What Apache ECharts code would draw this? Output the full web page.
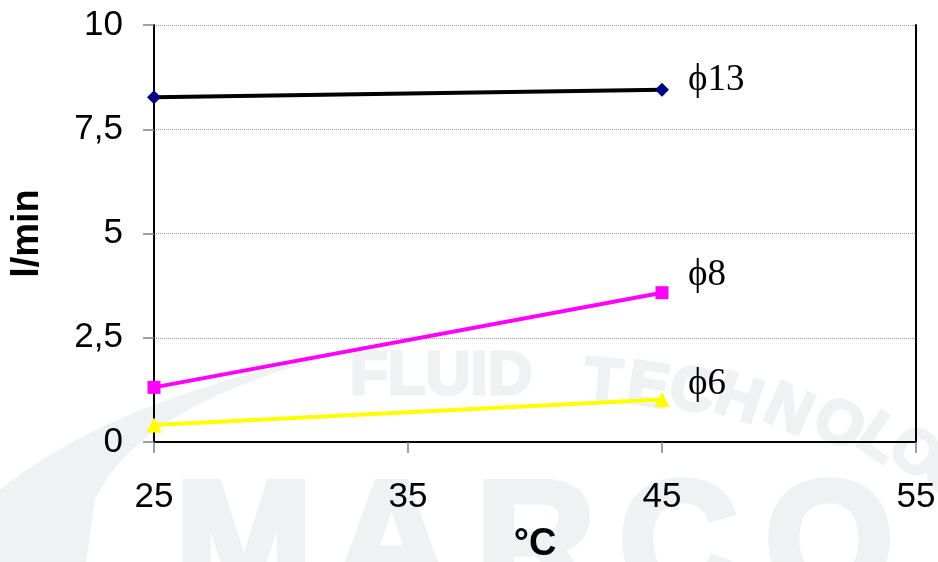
<!DOCTYPE html>
<html>
<head>
<meta charset="utf-8">
<script src="https://cdn.jsdelivr.net/npm/echarts@6/dist/echarts.min.js"></script>
<style>html,body{margin:0;padding:0;background:#fff}#c{width:938px;height:562px}</style>
</head>
<body>
<div id="c"></div>
<script>
// ---- data ----
const temps = [25, 45];
const phi13 = [8.27, 8.45];
const phi8 = [1.31, 3.58];
const phi6 = [0.41, 1.02];
const seriesNames = ['\u03D513', '\u03D58', '\u03D56'];
const xTicks = [25, 35, 45, 55];
const yTicks = [0, 2.5, 5, 7.5, 10];

const pairs = arr => temps.map((t, i) => [t, arr[i]]);

// ---- watermark (decoration) ----
const wm = '#eef2f3';
function bez(p0, p1, p2, p3, n) {
  const out = [];
  for (let i = 0; i <= n; i++) {
    const t = i / n, u = 1 - t;
    out.push([
      u*u*u*p0[0] + 3*u*u*t*p1[0] + 3*u*t*t*p2[0] + t*t*t*p3[0],
      u*u*u*p0[1] + 3*u*u*t*p1[1] + 3*u*t*t*p2[1] + t*t*t*p3[1]
    ]);
  }
  return out;
}
const swoosh = bez([0, 490], [80, 425], [200, 378], [380, 345], 30)
  .concat(bez([380, 345], [250, 372], [130, 420], [95, 500], 30))
  .concat([[86, 562], [0, 562]]);

const techLetters = [
  ['T', 603, 384, 5], ['E', 648, 388, 9], ['C', 692, 393, 13], ['H', 738, 401, 18],
  ['N', 788, 412, 24], ['O', 838, 426, 30], ['L', 879, 440, 35], ['O', 914, 455, 40],
  ['G', 948, 476, 45]
];
const graphics = [
  {type: 'polygon', z: -100, silent: true, shape: {points: swoosh}, style: {fill: wm}},
  {type: 'text', z: -100, silent: true, x: 350, y: 377,
   style: {text: 'FLUID', fontSize: 62, fontWeight: 'bold', fontFamily: 'Liberation Sans', fill: wm,
           stroke: wm, lineWidth: 3, align: 'left', verticalAlign: 'middle'}}
];
techLetters.forEach(([ch, x, y, r]) => graphics.push({
  type: 'text', z: -100, silent: true, x: x, y: y, rotation: -r * Math.PI / 180,
  style: {text: ch, fontSize: 62, fontWeight: 'bold', fontFamily: 'Liberation Sans', fill: wm,
          stroke: wm, lineWidth: 3, align: 'center', verticalAlign: 'middle'}
}));
[['M', 175], ['A', 332], ['R', 476], ['C', 619], ['O', 765]].forEach(([ch, x]) => graphics.push({
  type: 'text', z: -100, silent: true, x: x, y: 468,
  style: {text: ch, fontSize: 165, fontWeight: 'bold', fontFamily: 'Liberation Sans', fill: wm,
          stroke: wm, lineWidth: 7, align: 'left', verticalAlign: 'top'}
}));

const chart = echarts.init(document.getElementById('c'));
const lbl = (dy) => ({
  show: true, formatter: p => p.seriesName, distance: 26, offset: [0, dy],
  fontFamily: 'Liberation Serif', fontSize: 37, color: '#000'
});
chart.setOption({
  animation: false,
  backgroundColor: '#fff',
  graphic: {elements: graphics},
  grid: {left: 154, right: 22, top: 25, bottom: 120, outerBoundsMode: 'none', containLabel: false},
  xAxis: {
    type: 'value', min: xTicks[0], max: xTicks[xTicks.length - 1], interval: 10,
    name: '°C', nameLocation: 'middle', nameGap: 84,
    nameTextStyle: {fontSize: 38, fontWeight: 'bold', color: '#000', fontFamily: 'Liberation Sans'},
    axisLine: {lineStyle: {color: '#000', width: 2}},
    axisTick: {show: true, length: 11, lineStyle: {color: '#808080', width: 1.5}},
    axisLabel: {fontSize: 35, color: '#000', margin: 38, fontFamily: 'Liberation Sans'},
    splitLine: {show: false}
  },
  yAxis: [{
    type: 'value', min: yTicks[0], max: yTicks[yTicks.length - 1], interval: 2.5,
    name: 'l/min', nameLocation: 'middle', nameGap: 107, nameRotate: 90,
    nameTextStyle: {fontSize: 38, fontWeight: 'bold', color: '#000', fontFamily: 'Liberation Sans'},
    axisLine: {show: true, lineStyle: {color: '#000', width: 2}},
    axisTick: {show: true, length: 11, lineStyle: {color: '#808080', width: 1.5}},
    axisLabel: {fontSize: 35, color: '#000', margin: 31, fontFamily: 'Liberation Sans',
      formatter: v => String(v).replace('.', ',')},
    splitLine: {show: true, lineStyle: {color: '#999', type: 'dotted', width: 1}}
  }, {
    type: 'value', position: 'right', min: yTicks[0], max: yTicks[yTicks.length - 1], interval: 2.5,
    axisLine: {show: true, lineStyle: {color: '#000', width: 2}},
    axisTick: {show: false}, axisLabel: {show: false}, splitLine: {show: false}
  }],
  series: [
    {name: seriesNames[0], type: 'line', data: pairs(phi13), symbol: 'diamond', symbolSize: 14,
     lineStyle: {color: '#000', width: 4}, itemStyle: {color: '#000080'}, endLabel: lbl(-9)},
    {name: seriesNames[1], type: 'line', data: pairs(phi8), symbol: 'rect', symbolSize: 13,
     lineStyle: {color: '#ff00ff', width: 4}, itemStyle: {color: '#ff00ff'}, endLabel: lbl(-17)},
    {name: seriesNames[2], type: 'line', data: pairs(phi6), symbol: 'triangle', symbolSize: 15,
     lineStyle: {color: '#ffff00', width: 4}, itemStyle: {color: '#ffff00'}, endLabel: lbl(-15)}
  ]
});
</script>
</body>
</html>
